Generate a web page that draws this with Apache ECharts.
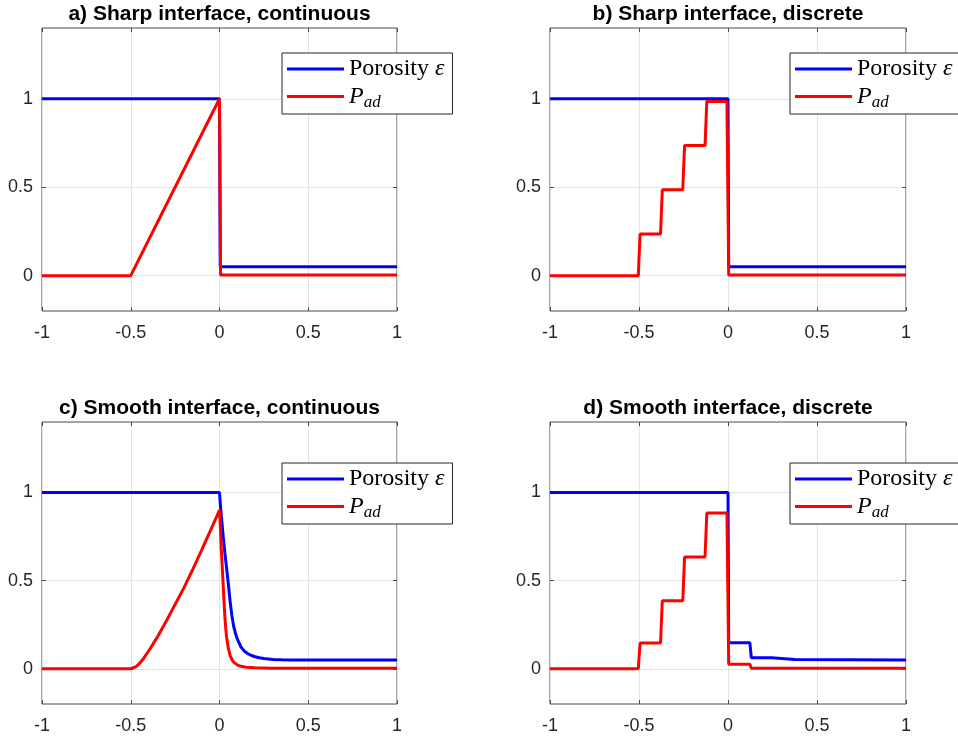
<!DOCTYPE html>
<html>
<head>
<meta charset="utf-8">
<title>Porosity and P_ad profiles</title>
<script src="https://cdn.jsdelivr.net/npm/echarts@6/dist/echarts.min.js"></script>
<style>
  html, body { margin: 0; padding: 0; background: #fff; }
  #chart { width: 958px; height: 742px; }
</style>
</head>
<body>
<div id="chart"></div>
<script>
// Panel titles and axis ticks
const panelTitles = [
  'a) Sharp interface, continuous',
  'b) Sharp interface, discrete',
  'c) Smooth interface, continuous',
  'd) Smooth interface, discrete'
];
const xTicks = [-1, -0.5, 0, 0.5, 1];
const yTicks = [0, 0.5, 1];
const yRange = [-0.2, 1.4];

// Series names
const nameEps = 'Porosity ε';
const namePad = 'P_ad';

// a) sharp interface, continuous
const epsSharpX = [-1, 0, 0.004, 1];
const epsSharpY = [1, 1, 0.05, 0.05];
const padSharpContX = [-1, -0.5, 0, 0.006, 1];
const padSharpContY = [0, 0, 1, 0.003, 0.003];

// b) sharp interface, discrete
const padSharpDiscX = [-1, -0.504, -0.494, -0.379, -0.369, -0.254, -0.244, -0.129, -0.119, -0.006, 0.004, 1];
const padSharpDiscY = [0, 0, 0.235, 0.235, 0.485, 0.485, 0.735, 0.735, 0.985, 0.985, 0.003, 0.003];

// c) smooth interface, continuous
const epsSmoothContX = [-1, 0, 0.005, 0.01, 0.02, 0.03, 0.04, 0.05, 0.06, 0.07, 0.08, 0.09, 0.1, 0.12, 0.14, 0.16, 0.18, 0.2, 0.225, 0.25, 0.3, 0.35, 0.4, 1];
const epsSmoothContY = [1, 1, 0.93, 0.87, 0.76, 0.66, 0.57, 0.48, 0.38, 0.30, 0.24, 0.20, 0.17, 0.125, 0.10, 0.085, 0.075, 0.068, 0.062, 0.058, 0.053, 0.051, 0.05, 0.05];
const padSmoothContX = [-1, -0.5, -0.49, -0.47, -0.45, -0.43, -0.41, -0.39, -0.37, -0.35, -0.3, -0.25, -0.2, -0.15, -0.1, -0.05, 0,
  0.005, 0.01, 0.015, 0.02, 0.025, 0.03, 0.035, 0.04, 0.05, 0.06, 0.07, 0.08, 0.1, 0.12, 0.15, 0.2, 0.3, 1];
const padSmoothContY = [0, 0, 0.002, 0.012, 0.03, 0.055, 0.085, 0.115, 0.148, 0.18, 0.27, 0.365, 0.46, 0.565, 0.675, 0.787, 0.9,
  0.8, 0.68, 0.59, 0.49, 0.39, 0.30, 0.23, 0.18, 0.115, 0.075, 0.052, 0.038, 0.022, 0.014, 0.008, 0.005, 0.003, 0.003];

// d) smooth interface, discrete
const epsSmoothDiscX = [-1, 0, 0.004, 0.123, 0.131, 0.246, 0.254, 0.375, 0.38, 1];
const epsSmoothDiscY = [1, 1, 0.147, 0.147, 0.062, 0.062, 0.052, 0.052, 0.05, 0.05];
const padSmoothDiscX = [-1, -0.504, -0.494, -0.379, -0.369, -0.254, -0.244, -0.129, -0.119, -0.006, 0.004, 0.123, 0.131, 1];
const padSmoothDiscY = [0, 0, 0.146, 0.146, 0.386, 0.386, 0.634, 0.634, 0.883, 0.883, 0.025, 0.025, 0.003, 0.003];

const panelSeries = [
  [[epsSharpX, epsSharpY], [padSharpContX, padSharpContY]],
  [[epsSharpX, epsSharpY], [padSharpDiscX, padSharpDiscY]],
  [[epsSmoothContX, epsSmoothContY], [padSmoothContX, padSmoothContY]],
  [[epsSmoothDiscX, epsSmoothDiscY], [padSmoothDiscX, padSmoothDiscY]]
];

function pairs(xs, ys) {
  return xs.map((x, i) => [x, ys[i]]);
}

// Layout of the 2x2 panel grid (pixels); legendTop is the offset below the frame top
const gridBoxes = [
  { left: 42, top: 28, width: 355, height: 283, legendTop: 25 },
  { left: 550, top: 28, width: 356, height: 283, legendTop: 25 },
  { left: 42, top: 422, width: 355, height: 282, legendTop: 41 },
  { left: 550, top: 422, width: 356, height: 282, legendTop: 41 }
];

const axisColor = '#262626';
const frameColor = '#4a4a4a';
const gridColor = '#e3e3e3';
const sansFont = '"Liberation Sans", Arial, Helvetica, sans-serif';
const serifFont = '"Liberation Serif", "Times New Roman", serif';

const grids = [], xAxes = [], yAxes = [], series = [], titles = [], legends = [];

gridBoxes.forEach((g, i) => {
  grids.push({
    left: g.left, top: g.top, width: g.width, height: g.height,
    show: true, borderColor: frameColor, borderWidth: 1, backgroundColor: '#fff',
    containLabel: false
  });
  const tickStyle = { show: true, inside: true, length: 4, lineStyle: { color: frameColor } };
  // bottom x axis with labels
  xAxes.push({
    type: 'value', gridIndex: i, position: 'bottom',
    min: xTicks[0], max: xTicks[xTicks.length - 1], interval: 0.5,
    axisLine: { show: false, onZero: false },
    axisTick: tickStyle,
    axisLabel: { show: true, margin: 13, color: axisColor, fontFamily: sansFont, fontSize: 18 },
    splitLine: { show: true, lineStyle: { color: gridColor, width: 1 } }
  });
  // mirrored top x axis (ticks only)
  xAxes.push({
    type: 'value', gridIndex: i, position: 'top',
    min: xTicks[0], max: xTicks[xTicks.length - 1], interval: 0.5,
    axisLine: { show: false, onZero: false },
    axisTick: tickStyle,
    axisLabel: { show: false },
    splitLine: { show: false }
  });
  // left y axis with labels
  yAxes.push({
    type: 'value', gridIndex: i, position: 'left',
    min: yRange[0], max: yRange[1],
    axisLine: { show: false, onZero: false },
    axisTick: Object.assign({ customValues: yTicks }, tickStyle),
    axisLabel: { show: true, margin: 9, customValues: yTicks, color: axisColor, fontFamily: sansFont, fontSize: 18 },
    splitLine: { show: true, lineStyle: { color: gridColor, width: 1 } }
  });
  // mirrored right y axis (ticks only)
  yAxes.push({
    type: 'value', gridIndex: i, position: 'right',
    min: yRange[0], max: yRange[1],
    axisLine: { show: false, onZero: false },
    axisTick: Object.assign({ customValues: yTicks }, tickStyle),
    axisLabel: { show: false, customValues: yTicks },
    splitLine: { show: false }
  });

  const [epsData, padData] = panelSeries[i];
  series.push({
    name: nameEps, type: 'line', xAxisIndex: 2 * i, yAxisIndex: 2 * i,
    data: pairs(epsData[0], epsData[1]),
    showSymbol: false, symbol: 'none', smooth: false, clip: true,
    lineStyle: { color: '#0000ff', width: 3 }, itemStyle: { color: '#0000ff' },
    z: 3, animation: false
  });
  series.push({
    name: namePad, type: 'line', xAxisIndex: 2 * i, yAxisIndex: 2 * i,
    data: pairs(padData[0], padData[1]),
    showSymbol: false, symbol: 'none', smooth: false, clip: true,
    lineStyle: { color: '#ff0000', width: 3 }, itemStyle: { color: '#ff0000' },
    z: 4, animation: false
  });

  titles.push({
    text: panelTitles[i],
    left: g.left + g.width / 2,
    textAlign: 'center',
    top: g.top - 24,
    padding: 0,
    textStyle: { fontFamily: sansFont, fontWeight: 'bold', fontSize: 21, color: '#000' }
  });

  legends.push({
    left: g.left + 240,
    top: g.top + g.legendTop,
    orient: 'vertical',
    data: [nameEps, namePad],
    selectedMode: false,
    backgroundColor: '#fff',
    borderColor: axisColor,
    borderWidth: 1,
    borderRadius: 0,
    padding: [3, 8, 3, 5],
    itemGap: 0,
    itemWidth: 57,
    itemHeight: 3,
    icon: 'rect',
    z: 10,
    formatter: function (name) {
      return name === namePad ? '{p|P}{s|ad}' : '{r|Porosity }{e|ε}';
    },
    textStyle: {
      padding: [0, 0, 0, 0],
      lineHeight: 26,
      rich: {
        r: { fontFamily: serifFont, fontSize: 24, color: '#000', lineHeight: 26 },
        e: { fontFamily: serifFont, fontSize: 24, fontStyle: 'italic', color: '#000', lineHeight: 26 },
        p: { fontFamily: serifFont, fontSize: 24, fontStyle: 'italic', color: '#000', lineHeight: 26 },
        s: { fontFamily: serifFont, fontSize: 17, fontStyle: 'italic', color: '#000', padding: [12, 0, 0, 0], lineHeight: 26 }
      }
    }
  });
});

const chart = echarts.init(document.getElementById('chart'), null, { renderer: 'canvas' });
chart.setOption({
  backgroundColor: '#fff',
  animation: false,
  title: titles,
  legend: legends,
  grid: grids,
  xAxis: xAxes,
  yAxis: yAxes,
  series: series
});
</script>
</body>
</html>
